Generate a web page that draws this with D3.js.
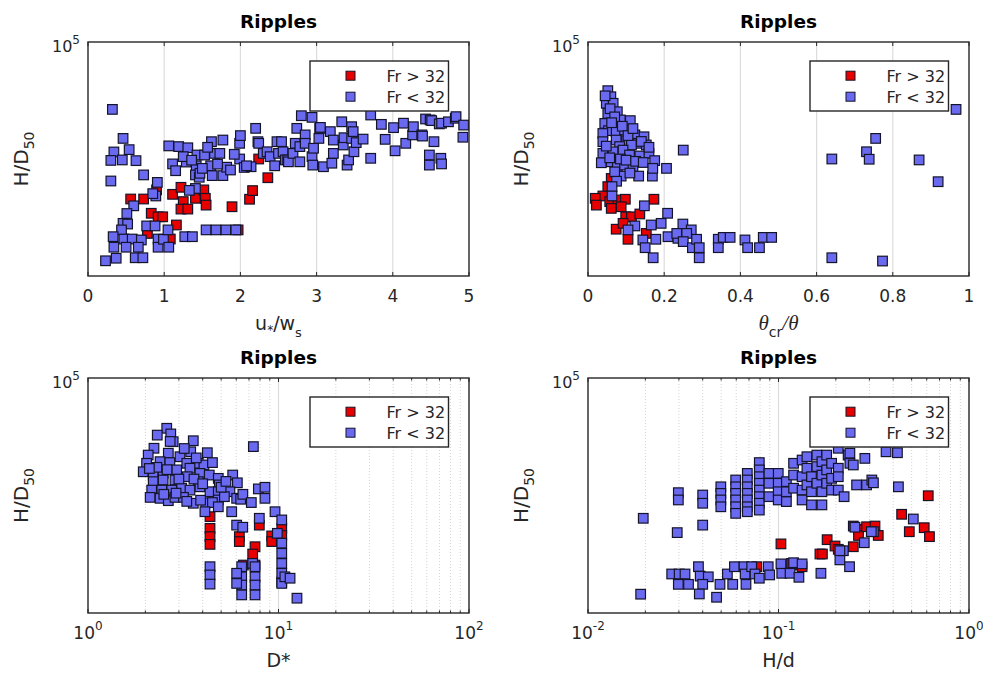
<!DOCTYPE html>
<html><head><meta charset="utf-8">
<script src="https://cdn.jsdelivr.net/npm/d3@7/dist/d3.min.js"></script>
<style>body{margin:0;background:#fff}svg{display:block;font-family:"DejaVu Sans",Arial,sans-serif}</style>
</head><body><svg id="c" width="983" height="675"></svg>
<script>
const seriesNames = ["Fr > 32", "Fr < 32"];
const seriesColors = ["#e80000", "#6a6af0"];
const titleText = "Ripples";
const yTop = 1e5;
const yTopLabel = ["10", "5"];

const p1Ticks = [0, 1, 2, 3, 4, 5];
const p2Ticks = [0, 0.2, 0.4, 0.6, 0.8, 1];
const p2TickLabels = ["0", "0.2", "0.4", "0.6", "0.8", "1"];
const p3Ticks = [1, 10, 100];
const p3TickLabels = [["10", "0"], ["10", "1"], ["10", "2"]];
const p4Ticks = [0.01, 0.1, 1];
const p4TickLabels = [["10", "-2"], ["10", "-1"], ["10", "0"]];

// Panel 1: u*/ws vs H/D50
const p1Red = [[0.56,32900],[0.73,32900],[0.90,36800],[0.83,26800],[0.92,25300],[0.98,25300],[1.16,21800],[0.78,18200],[1.08,15800],[1.11,34900],[1.22,37900],[1.25,31800],[1.22,28600],[1.31,28600],[1.41,33200],[1.52,36800],[1.54,33200],[1.55,30300],[1.89,29600],[2.12,32800],[2.16,36500],[2.24,50000],[2.36,42000],[1.97,19700]];
const p1Blue = [[0.32,71200],[0.46,58800],[0.34,53000],[0.54,54000],[0.30,49400],[0.45,49600],[0.63,49300],[0.30,40600],[0.73,43200],[0.91,40000],[0.89,34200],[0.85,35200],[0.60,30000],[0.51,26700],[0.46,22500],[0.52,22200],[0.44,19700],[0.33,16800],[0.47,15800],[0.58,15800],[0.70,15400],[0.34,12300],[0.50,12300],[0.66,12300],[0.23,6500],[0.37,7600],[0.62,7800],[0.72,7800],[0.77,21400],[0.88,21400],[0.92,15800],[0.92,12300],[0.99,15700],[1.06,12300],[1.05,19700],[1.27,16800],[1.37,16800],[1.41,37400],[1.33,36600],[1.06,55600],[1.19,55300],[1.31,54800],[1.11,47900],[1.29,48700],[1.42,47100],[1.41,43200],[1.46,42200],[1.47,43900],[1.43,51700],[1.53,51700],[1.62,57400],[1.77,58100],[1.66,52400],[1.73,52400],[1.61,47100],[1.63,42900],[1.77,42900],[1.82,46500],[1.87,45300],[1.99,56700],[1.99,50000],[2.05,46400],[2.14,46700],[2.20,63100],[2.23,57400],[1.55,19700],[1.68,19700],[1.81,19700],[1.94,19700],[1.15,45000],[1.25,51000],[1.36,49500],[1.50,46000],[1.57,55000],[1.70,47800],[1.92,52000],[2.00,60000],[2.08,47100],[2.24,56700],[2.30,52400],[2.35,53100],[2.39,51000],[2.45,47100],[2.48,57400],[2.50,52400],[2.54,57400],[2.56,53100],[2.59,49600],[2.62,49600],[2.63,48800],[2.69,52400],[2.72,56700],[2.74,63100],[2.78,48800],[2.78,55300],[2.80,68500],[2.85,60300],[2.85,56700],[2.94,67800],[2.94,51000],[2.95,47400],[2.96,54600],[3.03,58800],[3.04,63100],[3.05,63500],[3.09,46700],[3.18,61700],[3.20,48200],[3.22,52400],[3.22,58100],[3.33,65900],[3.35,56000],[3.36,59100],[3.40,47400],[3.42,49600],[3.46,58800],[3.46,63800],[3.48,61700],[3.49,53100],[3.52,57000],[3.61,58500],[3.71,68800],[3.71,50300],[3.85,64800],[3.90,58400],[4.01,63400],[4.03,53500],[4.14,65300],[4.17,56700],[4.26,60300],[4.27,63800],[4.38,60300],[4.39,59800],[4.43,67100],[4.48,51700],[4.48,47400],[4.49,66700],[4.51,66400],[4.54,57400],[4.61,65000],[4.63,50300],[4.64,47900],[4.64,65300],[4.73,65900],[4.82,67400],[4.83,68100],[4.93,64500],[4.92,59300]];

// Panel 2: theta_cr/theta vs H/D50
const p2Red = [[0.061,41700],[0.052,38200],[0.039,34200],[0.019,33200],[0.022,30300],[0.057,31800],[0.079,32500],[0.098,32800],[0.173,32800],[0.061,28900],[0.087,29600],[0.099,25300],[0.114,25300],[0.136,26500],[0.074,20000],[0.105,15700],[0.092,22500],[0.153,18200]];
const p2Blue = [[0.052,79200],[0.060,76600],[0.048,73800],[0.066,73800],[0.052,69500],[0.077,70200],[0.085,66700],[0.111,66400],[0.044,65200],[0.054,62100],[0.074,61700],[0.096,62400],[0.123,60300],[0.147,59500],[0.039,60900],[0.039,57400],[0.074,58100],[0.101,57800],[0.131,56700],[0.153,56000],[0.114,56000],[0.083,55300],[0.039,52400],[0.066,53100],[0.092,53800],[0.109,51700],[0.136,51300],[0.160,52400],[0.175,49300],[0.035,48400],[0.061,48800],[0.077,46700],[0.096,47400],[0.118,46700],[0.087,42700],[0.133,42700],[0.169,42700],[0.045,77000],[0.058,71500],[0.070,68000],[0.062,65500],[0.090,64000],[0.105,60000],[0.118,63000],[0.140,57500],[0.160,55000],[0.048,55500],[0.057,50500],[0.085,50000],[0.100,49500],[0.125,49000],[0.145,48500],[0.170,46000],[0.070,44500],[0.110,44000],[0.075,40500],[0.206,46000],[0.250,53800],[0.063,38200],[0.063,34200],[0.148,30000],[0.209,26800],[0.192,22500],[0.166,21800],[0.123,21400],[0.105,19700],[0.144,15400],[0.178,15700],[0.210,16800],[0.236,16100],[0.249,22200],[0.271,19700],[0.150,12100],[0.171,7800],[0.233,18200],[0.259,18200],[0.250,14700],[0.274,12100],[0.285,15700],[0.292,12100],[0.292,7800],[0.342,15700],[0.342,12100],[0.355,16500],[0.373,16500],[0.412,15400],[0.419,12100],[0.450,12100],[0.460,16500],[0.482,16500],[0.640,50000],[0.731,53100],[0.738,49900],[0.755,58800],[0.869,49600],[0.919,40300],[0.966,71200],[0.640,7800],[0.773,6400]];

// Panel 3: D* vs H/D50
const p3Red = [[4.37,41000],[4.37,36000],[4.37,32500],[4.37,29200],[6.23,32500],[6.23,30400],[7.93,37400],[7.53,28200],[7.32,25100],[7.53,20400],[6.54,20400],[9.21,32800],[9.21,30400],[10.4,36000],[10.4,33000],[10.4,13200]];
const p3Blue = [[2.59,78600],[2.31,75700],[2.72,76200],[2.80,72900],[3.57,73300],[2.22,70100],[2.07,67200],[2.64,68000],[3.04,66500],[3.46,68600],[4.23,68200],[2.03,63700],[2.39,64400],[2.69,64000],[3.30,63700],[3.79,63700],[4.06,63000],[1.95,60100],[2.20,58700],[2.48,59400],[2.92,60900],[3.43,61600],[3.87,59400],[4.33,58700],[4.83,57300],[5.75,58700],[6.08,55400],[2.20,55900],[2.48,56600],[2.86,56600],[3.32,58000],[3.79,55900],[4.89,54500],[2.16,52300],[2.44,52300],[2.75,52300],[3.10,53100],[3.43,52300],[3.87,53700],[4.37,51600],[4.83,51600],[5.56,51600],[7.84,52800],[8.49,53500],[2.12,49200],[2.39,48800],[2.64,47800],[2.86,49200],[3.17,49200],[3.57,46700],[4.16,46900],[4.83,48100],[6.03,48800],[6.33,48400],[8.49,48800],[2.30,62000],[2.60,61000],[3.00,57000],[3.60,57000],[4.00,55000],[2.50,50500],[2.90,51000],[3.30,47500],[3.90,48000],[4.50,47000],[5.20,49500],[5.00,53500],[2.10,61500],[2.70,73000],[3.20,70000],[3.70,66000],[4.50,64000],[5.30,56000],[6.50,50500],[7.20,47000],[4.83,45200],[4.11,43100],[5.68,43100],[6.03,37400],[6.49,36500],[7.93,40300],[9.59,43100],[10.4,39600],[9.86,33900],[10.4,29700],[10.4,25400],[10.4,21100],[10.4,16900],[10.4,12600],[10.8,15400],[11.5,14800],[12.5,6300],[7.32,21100],[4.37,19700],[4.37,16200],[4.37,12300],[6.41,19700],[6.41,15400],[6.41,11900],[6.41,7700],[6.03,16900],[6.03,12600],[7.53,19700],[7.53,15400],[7.53,11900],[7.53,7700],[7.38,70800]];

// Panel 4: H/d vs H/D50
const p4Red = [[0.103,29400],[0.180,31200],[0.165,25100],[0.170,25100],[0.198,28500],[0.206,27100],[0.247,28200],[0.247,37000],[0.263,35600],[0.263,33000],[0.290,36700],[0.321,37000],[0.334,33000],[0.443,42000],[0.486,34600],[0.611,49900],[0.582,36300],[0.620,32500],[0.127,20400],[0.133,19700],[0.0769,19700],[0.117,21100]];
const p4Blue = [[0.0298,51200],[0.0298,48100],[0.040,50200],[0.040,46700],[0.0498,53700],[0.0498,50900],[0.0498,48100],[0.0498,45200],[0.0596,56600],[0.0596,53700],[0.0596,50900],[0.0596,48100],[0.0596,45200],[0.0596,42400],[0.0686,59400],[0.0686,56600],[0.0686,53700],[0.0686,50900],[0.0686,48100],[0.0686,45200],[0.0686,43100],[0.0793,64000],[0.0793,60900],[0.0793,58000],[0.0793,55200],[0.0793,52300],[0.0793,49500],[0.0793,46700],[0.0793,43800],[0.0891,59400],[0.0891,55200],[0.0891,49500],[0.0997,59400],[0.0997,55200],[0.0997,51600],[0.0997,48100],[0.110,55900],[0.110,51600],[0.110,47400],[0.120,63700],[0.120,58700],[0.120,53100],[0.133,65100],[0.133,58000],[0.133,52300],[0.133,48100],[0.141,66500],[0.141,61600],[0.141,54500],[0.149,58000],[0.149,51600],[0.149,46000],[0.159,67200],[0.159,62300],[0.159,55200],[0.169,64400],[0.169,58700],[0.169,51600],[0.169,46000],[0.179,67200],[0.179,60900],[0.179,55200],[0.190,63700],[0.190,57300],[0.190,52300],[0.206,70100],[0.206,61600],[0.206,58000],[0.206,52300],[0.221,49500],[0.232,67200],[0.237,68000],[0.237,63700],[0.247,63000],[0.257,54500],[0.284,65800],[0.290,54500],[0.309,56600],[0.315,55400],[0.367,68600],[0.421,68200],[0.426,53700],[0.0195,40300],[0.0189,8000],[0.0294,34200],[0.040,37400],[0.0275,16600],[0.0301,16600],[0.0323,16600],[0.0298,12200],[0.0337,12200],[0.0380,19700],[0.0388,15700],[0.0428,15400],[0.040,12200],[0.0384,8100],[0.0473,6700],[0.0493,12200],[0.0539,16600],[0.0575,12200],[0.0587,19700],[0.0659,19700],[0.0675,12200],[0.0668,16600],[0.0723,19700],[0.0753,16600],[0.0793,14800],[0.0883,19700],[0.0899,16200],[0.103,20900],[0.104,16900],[0.115,16900],[0.120,21400],[0.128,15200],[0.133,20900],[0.167,16900],[0.210,22600],[0.236,19700],[0.219,26500],[0.282,29900],[0.315,34600],[0.252,36500],[0.510,40000],[0.307,34600],[0.210,26500]];

const svg = d3.select("#c");
const axisColor = "#262626";
const serif = "'Liberation Serif','DejaVu Serif',serif";

const panels = [
  {x0:88, x1:469, y0:42, y1:276, log:false, domain:[0,5], ticks:p1Ticks, labels:p1Ticks.map(String), red:p1Red, blue:p1Blue, xlab:"u"},
  {x0:588, x1:969, y0:42, y1:276, log:false, domain:[0,1], ticks:p2Ticks, labels:p2TickLabels, red:p2Red, blue:p2Blue, xlab:"theta"},
  {x0:88, x1:469, y0:378, y1:613, log:true, domain:[1,100], ticks:p3Ticks, labels:p3TickLabels, red:p3Red, blue:p3Blue, xlab:"D"},
  {x0:588, x1:969, y0:378, y1:613, log:true, domain:[0.01,1], ticks:p4Ticks, labels:p4TickLabels, red:p4Red, blue:p4Blue, xlab:"Hd"}
];

const mk = 9.6;
function drawMarkers(g, data, x, y, color) {
  g.selectAll(null).data(data).enter().append("rect")
    .attr("x", d => x(d[0]) - mk / 2).attr("y", d => y(d[1]) - mk / 2)
    .attr("width", mk).attr("height", mk)
    .attr("fill", color).attr("stroke", "#14142a").attr("stroke-width", 1.2);
}

panels.forEach(p => {
  const g = svg.append("g");
  const x = (p.log ? d3.scaleLog() : d3.scaleLinear()).domain(p.domain).range([p.x0, p.x1]);
  const y = d3.scaleLinear().domain([0, yTop]).range([p.y1, p.y0]);
  const cx = (p.x0 + p.x1) / 2, cy = (p.y0 + p.y1) / 2;

  if (p.log) {
    const minor = [];
    const [a, b] = p.domain;
    for (let dec = a; dec < b; dec *= 10) for (let k = 2; k <= 9; k++) minor.push(dec * k);
    g.selectAll(null).data(minor).enter().append("line")
      .attr("x1", d => x(d)).attr("x2", d => x(d)).attr("y1", p.y0).attr("y2", p.y1)
      .attr("stroke", "#d4d4d4").attr("stroke-width", 1).attr("stroke-dasharray", "1,2");
    [[p.y1, -2.5], [p.y0, 2.5]].forEach(([yy, dl]) => {
      g.selectAll(null).data(minor).enter().append("line")
        .attr("x1", d => x(d)).attr("x2", d => x(d)).attr("y1", yy).attr("y2", yy + dl)
        .attr("stroke", axisColor).attr("stroke-width", 1);
    });
  }
  const inner = p.ticks.slice(1, -1);
  g.selectAll(null).data(inner).enter().append("line")
    .attr("x1", d => x(d)).attr("x2", d => x(d)).attr("y1", p.y0).attr("y2", p.y1)
    .attr("stroke", "#dcdcdc").attr("stroke-width", 1.2);
  [[p.y1, -4], [p.y0, 4]].forEach(([yy, dl]) => {
    g.selectAll(null).data(p.ticks).enter().append("line")
      .attr("x1", d => x(d)).attr("x2", d => x(d)).attr("y1", yy).attr("y2", yy + dl)
      .attr("stroke", axisColor).attr("stroke-width", 1);
  });

  drawMarkers(g, p.red, x, y, seriesColors[0]);
  drawMarkers(g, p.blue, x, y, seriesColors[1]);

  g.append("rect").attr("x", p.x0).attr("y", p.y0).attr("width", p.x1 - p.x0).attr("height", p.y1 - p.y0)
    .attr("fill", "none").attr("stroke", axisColor).attr("stroke-width", 1.4);

  p.ticks.forEach((t, i) => {
    const lab = p.labels[i];
    const tx = g.append("text").attr("x", x(t)).attr("y", p.y1 + 26)
      .attr("text-anchor", "middle").attr("fill", axisColor).attr("font-size", 17);
    if (Array.isArray(lab)) {
      tx.append("tspan").text(lab[0]);
      tx.append("tspan").attr("dy", -9).attr("font-size", 12).text(lab[1]);
    } else tx.text(lab);
  });

  const yt = g.append("text").attr("x", p.x0 - 8).attr("y", p.y0 + 9.5)
    .attr("text-anchor", "end").attr("fill", axisColor).attr("font-size", 16);
  yt.append("tspan").text(yTopLabel[0]);
  yt.append("tspan").attr("dy", -8).attr("font-size", 12).text(yTopLabel[1]);

  const yl = g.append("text").attr("transform", `translate(${p.x0 - 60},${cy}) rotate(-90)`)
    .attr("text-anchor", "middle").attr("fill", axisColor).attr("font-size", 20);
  yl.append("tspan").text("H/D");
  yl.append("tspan").attr("dy", 6).attr("font-size", 14).text("50");

  g.append("text").attr("x", cx).attr("y", p.y0 - 14).attr("text-anchor", "middle")
    .attr("font-weight", "bold").attr("font-size", 18.5).attr("fill", "#000").text(titleText);

  const xl = g.append("text").attr("x", cx).attr("y", p.y1 + 54).attr("text-anchor", "middle")
    .attr("fill", axisColor).attr("font-size", 19);
  if (p.xlab === "u") {
    xl.append("tspan").text("u");
    xl.append("tspan").attr("dy", 4).attr("font-size", 12).text("*");
    xl.append("tspan").attr("dy", -4).text("/w");
    xl.append("tspan").attr("dy", 7).attr("font-size", 13).text("s");
  } else if (p.xlab === "theta") {
    xl.append("tspan").attr("font-family", serif).attr("font-style", "italic").attr("font-size", 21).text("θ");
    xl.append("tspan").attr("dy", 7).attr("font-size", 14).text("cr");
    xl.append("tspan").attr("dy", -7).attr("font-family", serif).attr("font-style", "italic").attr("font-size", 21).text("/θ");
  } else if (p.xlab === "D") {
    xl.text("D*");
  } else {
    xl.text("H/d");
  }

  const lx = p.x1 - 159, ly = p.y0 + 19;
  const lg = g.append("g");
  lg.append("rect").attr("x", lx).attr("y", ly).attr("width", 138.5).attr("height", 50)
    .attr("fill", "#fff").attr("stroke", axisColor).attr("stroke-width", 1.4);
  seriesNames.forEach((name, i) => {
    const ry = ly + 14.7 + i * 21;
    lg.append("rect").attr("x", lx + 40.5 - 4.5).attr("y", ry - 4.5).attr("width", 9).attr("height", 9)
      .attr("fill", seriesColors[i]).attr("stroke", "#14142a").attr("stroke-width", 1);
    lg.append("text").attr("x", lx + 76.5).attr("y", ry + 6).attr("font-size", 16)
      .attr("fill", axisColor).text(name);
  });
});
</script></body></html>
